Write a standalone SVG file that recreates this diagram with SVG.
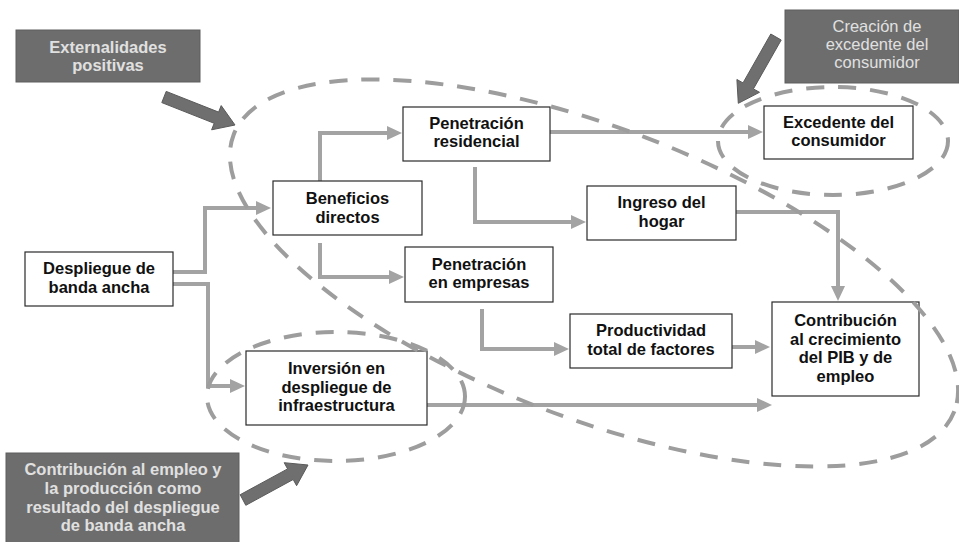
<svg xmlns="http://www.w3.org/2000/svg" width="959" height="542" viewBox="0 0 959 542">
<defs>
<style>
.box{fill:#ffffff;stroke:#2a2a2a;stroke-width:1.2}
.dark{fill:#6d6d6d;stroke:#5e5e5e;stroke-width:1}
.t{font-family:"Liberation Sans",Arial,sans-serif;font-size:16.5px;font-weight:bold;fill:#111111;text-anchor:middle}
.dt{font-family:"Liberation Sans",Arial,sans-serif;font-size:16.5px;font-weight:bold;fill:#e0e0e0;text-anchor:middle}
.dtn{font-family:"Liberation Sans",Arial,sans-serif;font-size:16.5px;font-weight:normal;fill:#e0e0e0;text-anchor:middle}
.conn{fill:none;stroke:#a3a3a3;stroke-width:4;stroke-linejoin:miter;marker-end:url(#ah)}
.ell{fill:none;stroke:#9d9d9d;stroke-width:4;stroke-dasharray:18 14}
.big{fill:#6f6f6f;stroke:#5a5a5a;stroke-width:1}
</style>
<marker id="ah" markerUnits="userSpaceOnUse" markerWidth="16" markerHeight="14" refX="5" refY="7" orient="auto">
<path d="M0,0 L15,7 L0,14 z" fill="#a3a3a3"/>
</marker>
</defs>
<rect width="959" height="542" fill="#ffffff"/>

<g id="connectors">
<path class="conn" d="M173,272 H205 V208 H261"/>
<path class="conn" d="M173,284 H208 V386 H235"/>
<path class="conn" d="M320,181 V133 H392"/>
<path class="conn" d="M320,243 V277 H394"/>
<path class="conn" d="M550,132 H753"/>
<path class="conn" d="M475,167 V222 H576"/>
<path class="conn" d="M736,212 H838 V291"/>
<path class="conn" d="M482,309 V349 H559"/>
<path class="conn" d="M732,347 H760"/>
<path class="conn" d="M427,405 H762"/>
</g>

<g id="despliegue">
<rect class="box" x="25" y="252" width="148" height="54"/>
<text class="t" x="99" y="274">Despliegue de</text>
<text class="t" x="99" y="292.5">banda ancha</text>
</g>
<g id="beneficios">
<rect class="box" x="273" y="181" width="149" height="54"/>
<text class="t" x="347.5" y="204">Beneficios</text>
<text class="t" x="347.5" y="222.5">directos</text>
</g>
<g id="pen-residencial">
<rect class="box" x="403" y="107" width="147" height="54"/>
<text class="t" x="476.5" y="128.5">Penetración</text>
<text class="t" x="476.5" y="147">residencial</text>
</g>
<g id="pen-empresas">
<rect class="box" x="405" y="247" width="148" height="55"/>
<text class="t" x="479" y="269.5">Penetración</text>
<text class="t" x="479" y="288">en empresas</text>
</g>
<g id="ingreso">
<rect class="box" x="587" y="186" width="149" height="54"/>
<text class="t" x="661.5" y="208">Ingreso del</text>
<text class="t" x="661.5" y="226.5">hogar</text>
</g>
<g id="excedente">
<rect class="box" x="764" y="106" width="149" height="53"/>
<text class="t" x="838.5" y="127.5">Excedente del</text>
<text class="t" x="838.5" y="146">consumidor</text>
</g>
<g id="productividad">
<rect class="box" x="570" y="314" width="162" height="54"/>
<text class="t" x="651" y="336">Productividad</text>
<text class="t" x="651" y="354.5">total de factores</text>
</g>
<g id="contribucion">
<rect class="box" x="772" y="302" width="147" height="94"/>
<text class="t" x="845.5" y="326">Contribución</text>
<text class="t" x="845.5" y="344.5">al crecimiento</text>
<text class="t" x="845.5" y="363">del PIB y de</text>
<text class="t" x="845.5" y="381.5">empleo</text>
</g>
<g id="inversion">
<rect class="box" x="246" y="351" width="181" height="74"/>
<text class="t" x="336.5" y="374">Inversión en</text>
<text class="t" x="336.5" y="392.5">despliegue de</text>
<text class="t" x="336.5" y="411">infraestructura</text>
</g>

<g id="ellipses">
<ellipse class="ell" cx="594" cy="273" rx="386" ry="145" transform="rotate(21 594 273)"/>
<ellipse class="ell" cx="833" cy="141" rx="115" ry="54"/>
<ellipse class="ell" cx="336" cy="396.5" rx="129" ry="64.5"/>
</g>

<g id="externalidades">
<rect class="dark" x="16" y="30" width="184" height="52"/>
<text class="dt" x="108" y="53">Externalidades</text>
<text class="dt" x="108" y="71">positivas</text>
<polygon class="big" points="166.2,91.4 218.6,112.1 221.2,105.6 235,125 211.6,129.8 214.2,123.3 161.8,102.6"/>
</g>
<g id="creacion">
<rect class="dark" x="785" y="10" width="174" height="73"/>
<text class="dtn" x="877" y="32">Creación de</text>
<text class="dtn" x="877" y="50">excedente del</text>
<text class="dtn" x="877" y="68">consumidor</text>
<polygon class="big" points="770.8,34.0 743.0,82.9 736.9,79.5 738.3,103.3 759.5,92.3 753.4,88.9 781.2,40.0"/>
</g>
<g id="contribucion-empleo">
<rect class="dark" x="6" y="453" width="233" height="92"/>
<text class="dt" x="123" y="475">Contribución al empleo y</text>
<text class="dt" x="123" y="494">la producción como</text>
<text class="dt" x="123" y="513">resultado del despliegue</text>
<text class="dt" x="123" y="531">de banda ancha</text>
<polygon class="big" points="240.2,494.7 287.6,468.9 284.2,462.7 308,465 296.6,485.7 293.2,479.5 245.8,505.3"/>
</g>
</svg>
